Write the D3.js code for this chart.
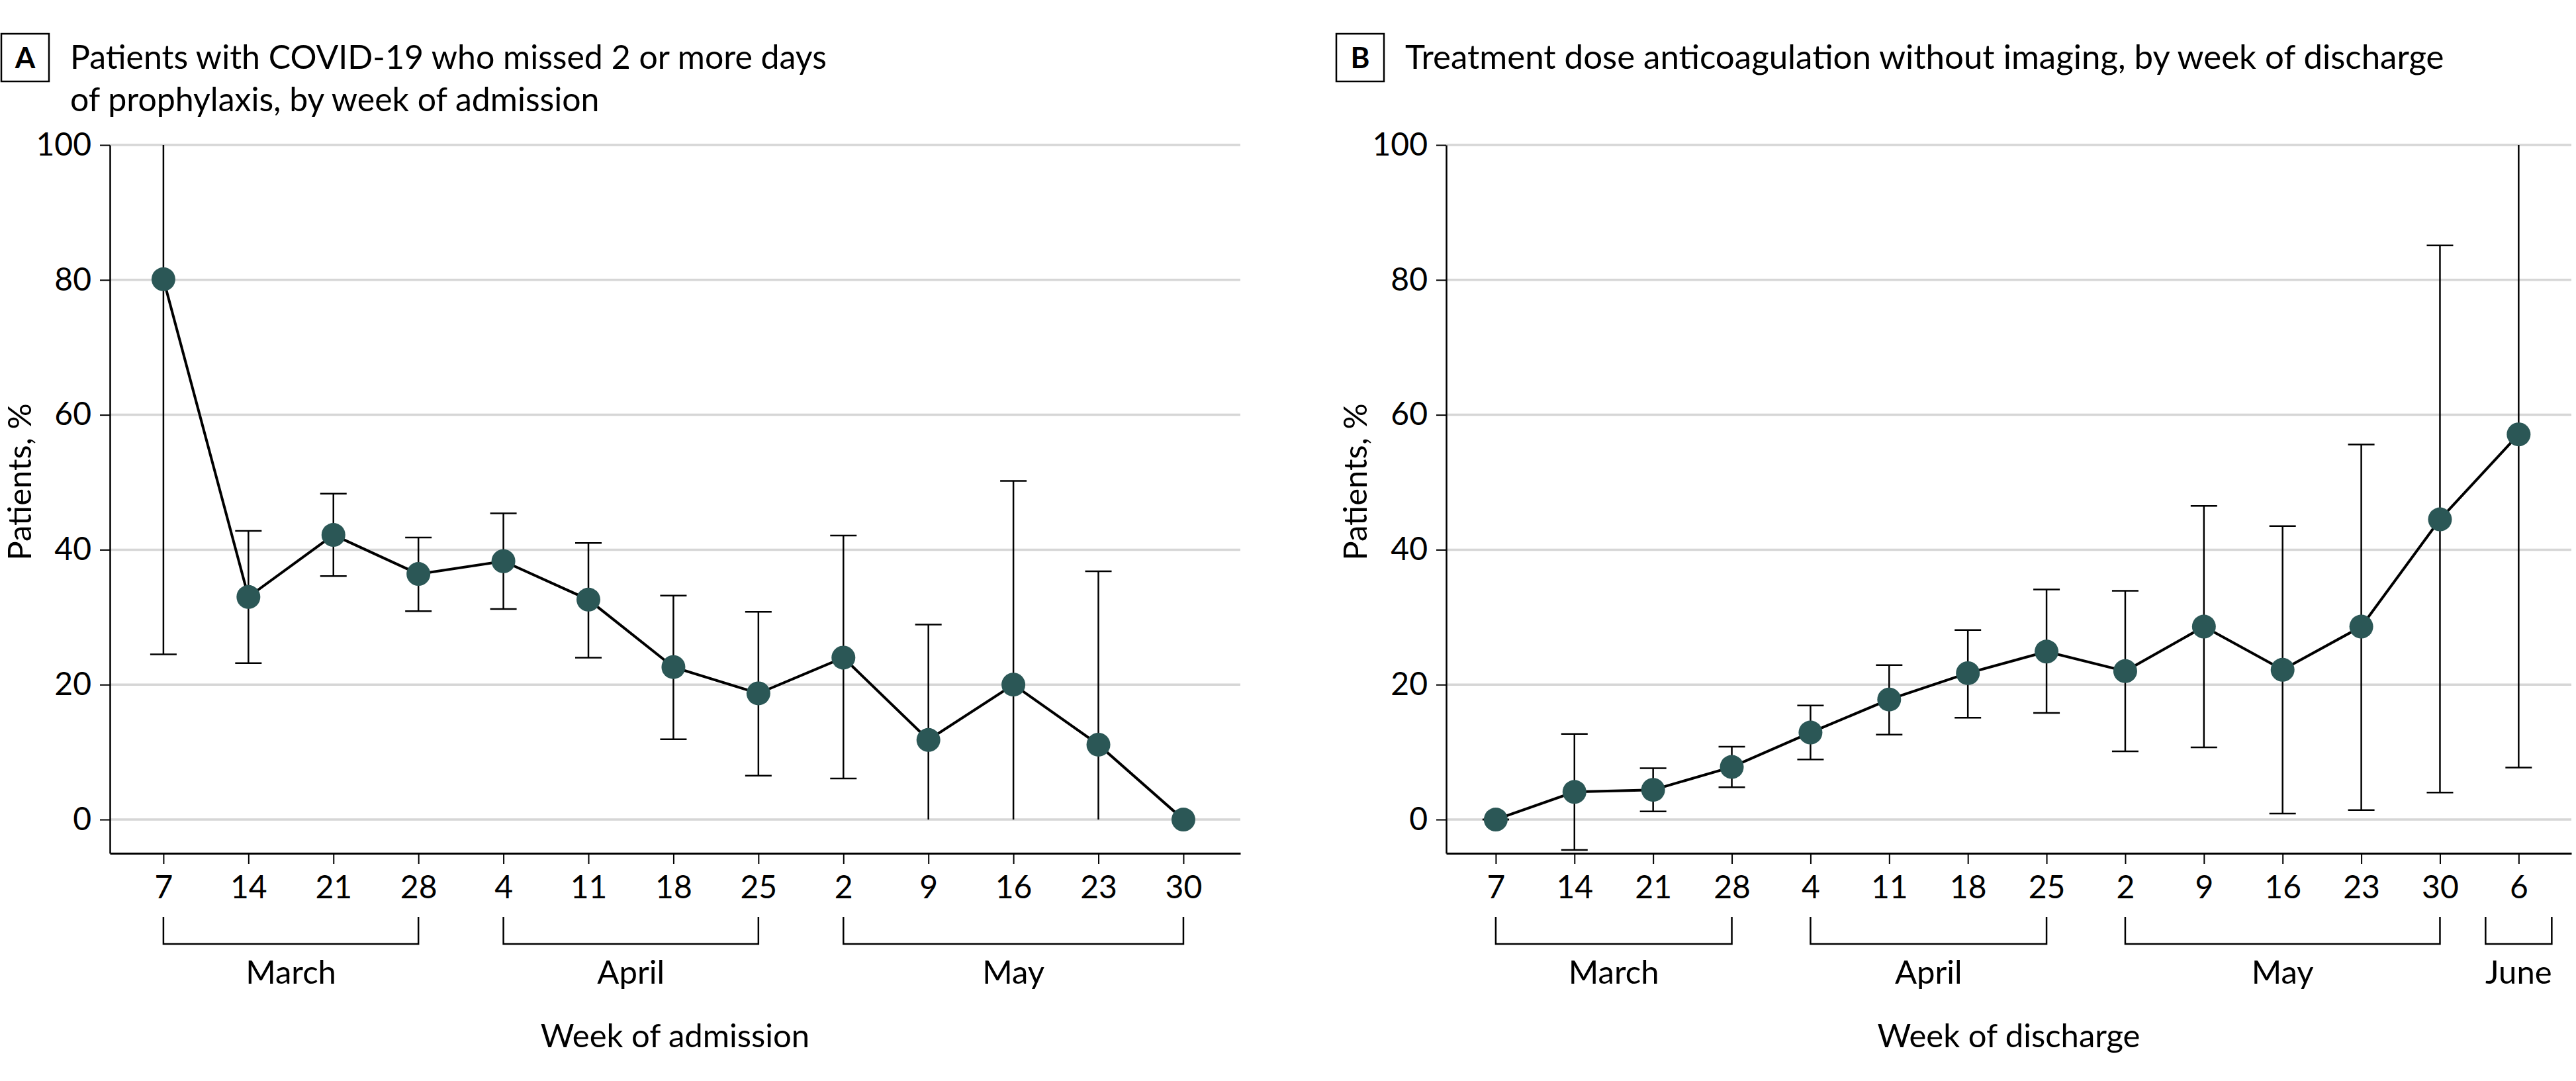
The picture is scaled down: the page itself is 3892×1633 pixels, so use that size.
<!DOCTYPE html>
<html>
<head>
<meta charset="utf-8">
<script src="https://cdn.jsdelivr.net/npm/d3@7"></script>
<style>
  body { margin: 0; background: #fff; }
  text { font-family: Lato, "Open Sans", sans-serif; fill: #000; }
</style>
</head>
<body>
<svg id="chart" width="3892" height="1633"></svg>
<script>
// panel A: missed prophylaxis, by week of admission
var weeksA = ["7", "14", "21", "28", "4", "11", "18", "25", "2", "9", "16", "23", "30"];
var pctA = [80.1, 33.0, 42.2, 36.4, 38.3, 32.6, 22.6, 18.7, 24.0, 11.8, 20.0, 11.1, 0];
var loA = [24.5, 23.2, 36.1, 30.9, 31.2, 24.0, 11.9, 6.5, 6.1, 0, 0, 0, null];
var hiA = [100, 42.8, 48.3, 41.8, 45.4, 41.0, 33.2, 30.8, 42.1, 28.9, 50.2, 36.8, null];
var truncLoA = [9, 10, 11];   // CI cut at 0, drawn without cap
var truncHiA = [0];           // CI cut at 100
var monthsA = ["March", "April", "May"];
var monthFromA = [0, 4, 8];
var monthToA = [3, 7, 12];

// panel B: treatment dose anticoagulation, by week of discharge
var weeksB = ["7", "14", "21", "28", "4", "11", "18", "25", "2", "9", "16", "23", "30", "6"];
var pctB = [0, 4.1, 4.4, 7.8, 12.9, 17.8, 21.7, 24.9, 22.0, 28.6, 22.2, 28.6, 44.5, 57.1];
var loB = [0, -4.5, 1.2, 4.8, 8.9, 12.6, 15.1, 15.8, 10.1, 10.7, 0.9, 1.4, 4.0, 7.7];
var hiB = [0, 12.7, 7.6, 10.8, 16.9, 22.9, 28.1, 34.1, 33.9, 46.5, 43.5, 55.6, 85.1, 100];
var truncLoB = [];
var truncHiB = [13];
var monthsB = ["March", "April", "May", "June"];
var monthFromB = [0, 4, 8, 13];
var monthToB = [3, 7, 12, 13];

var yTicks = [0, 20, 40, 60, 80, 100];

var svg = d3.select("#chart");
var dotColor = "#2b5756";

function drawPanel(p) {
  var g = svg.append("g");
  var n = p.weeks.length;
  var x = d3.scaleLinear().domain([-0.63, n - 1 + 0.67]).range([p.left, p.right]);
  var y = d3.scaleLinear().domain([-5, 100]).range([1289, 219]);

  // panel letter + title
  g.append("rect")
      .attr("x", p.boxX).attr("y", 51).attr("width", 72).attr("height", 72)
      .attr("fill", "none").attr("stroke", "#000").attr("stroke-width", 2.5);
  g.append("text")
      .attr("x", p.boxX + 36).attr("y", 103)
      .attr("text-anchor", "middle")
      .style("font-size", "44px").style("font-weight", "bold")
      .text(p.letter);
  var title = g.append("text")
      .attr("x", p.boxX + 104).attr("y", 104)
      .style("font-size", p.titleSize + "px");
  p.title.forEach(function(t, i) {
    title.append("tspan").attr("x", p.boxX + 104).attr("dy", i ? 64 : 0).text(t);
  });

  // gridlines
  g.append("g").selectAll("line")
      .data(yTicks)
    .enter().append("line")
      .attr("x1", p.left).attr("x2", p.right)
      .attr("y1", function(d) { return y(d); })
      .attr("y2", function(d) { return y(d); })
      .attr("stroke", "#d6d6d6").attr("stroke-width", 3.5);

  // y axis
  var ya = g.append("g")
      .attr("transform", "translate(" + p.left + ",0)")
      .call(d3.axisLeft(y).tickValues(yTicks).tickSize(15).tickSizeOuter(0).tickPadding(13));
  ya.select(".domain").attr("stroke-width", 2.5);
  ya.selectAll(".tick line").attr("stroke-width", 2);
  ya.selectAll(".tick text").style("font-size", "48px").style("font-family", "Lato, sans-serif");

  // x axis
  var xa = g.append("g")
      .attr("transform", "translate(0,1289)")
      .call(d3.axisBottom(x).tickValues(d3.range(n))
        .tickFormat(function(i) { return p.weeks[i]; })
        .tickSize(16).tickSizeOuter(0).tickPadding(18));
  xa.select(".domain").attr("stroke-width", 3);
  xa.selectAll(".tick line").attr("stroke-width", 2);
  xa.selectAll(".tick text").style("font-size", "48px").style("font-family", "Lato, sans-serif");

  // month brackets
  var br = g.append("g").selectAll("g")
      .data(p.months)
    .enter().append("g");
  br.append("path")
      .attr("d", function(m, i) {
        var a = x(p.monthFrom[i]), b = x(p.monthTo[i]);
        if (a === b) { a -= 50; b += 50; }
        return "M" + a + ",1385V1426H" + b + "V1385";
      })
      .attr("fill", "none").attr("stroke", "#000").attr("stroke-width", 2.5);
  br.append("text")
      .attr("x", function(m, i) { return (x(p.monthFrom[i]) + x(p.monthTo[i])) / 2; })
      .attr("y", 1486)
      .attr("text-anchor", "middle")
      .style("font-size", "49px")
      .text(function(m) { return m; });

  g.append("text")
      .attr("x", (p.left + p.right) / 2).attr("y", 1582)
      .attr("text-anchor", "middle")
      .style("font-size", "49px")
      .text(p.xTitle);

  g.append("text")
      .attr("transform", "translate(" + p.yLabX + ",728) rotate(-90)")
      .attr("text-anchor", "middle")
      .style("font-size", "49px")
      .text("Patients, %");

  // error bars
  var eb = g.append("g").selectAll("g")
      .data(d3.range(n).filter(function(i) { return p.lo[i] !== null; }))
    .enter().append("g")
      .attr("stroke", "#000").attr("stroke-width", 2.5);
  eb.append("line")
      .attr("x1", function(i) { return x(i); }).attr("x2", function(i) { return x(i); })
      .attr("y1", function(i) { return y(p.lo[i]); })
      .attr("y2", function(i) { return y(p.hi[i]); });
  eb.filter(function(i) { return p.truncLo.indexOf(i) < 0; })
    .append("line")
      .attr("x1", function(i) { return x(i) - 20; }).attr("x2", function(i) { return x(i) + 20; })
      .attr("y1", function(i) { return y(p.lo[i]); })
      .attr("y2", function(i) { return y(p.lo[i]); });
  eb.filter(function(i) { return p.truncHi.indexOf(i) < 0; })
    .append("line")
      .attr("x1", function(i) { return x(i) - 20; }).attr("x2", function(i) { return x(i) + 20; })
      .attr("y1", function(i) { return y(p.hi[i]); })
      .attr("y2", function(i) { return y(p.hi[i]); });

  // connecting line + dots
  var line = d3.line()
      .x(function(d, i) { return x(i); })
      .y(function(d) { return y(d); });
  g.append("path")
      .datum(p.pct)
      .attr("d", line)
      .attr("fill", "none").attr("stroke", "#000").attr("stroke-width", 4);
  g.append("g").selectAll("circle")
      .data(p.pct)
    .enter().append("circle")
      .attr("cx", function(d, i) { return x(i); })
      .attr("cy", function(d) { return y(d); })
      .attr("r", 18)
      .attr("fill", dotColor);
}

drawPanel({
  letter: "A", boxX: 2, titleSize: 50,
  title: ["Patients with COVID-19 who missed 2 or more days", "of prophylaxis, by week of admission"],
  weeks: weeksA, pct: pctA, lo: loA, hi: hiA, truncLo: truncLoA, truncHi: truncHiA,
  months: monthsA, monthFrom: monthFromA, monthTo: monthToA,
  xTitle: "Week of admission",
  left: 166, right: 1874, yLabX: 47
});

drawPanel({
  letter: "B", boxX: 2019, titleSize: 51,
  title: ["Treatment dose anticoagulation without imaging, by week of discharge"],
  weeks: weeksB, pct: pctB, lo: loB, hi: hiB, truncLo: truncLoB, truncHi: truncHiB,
  months: monthsB, monthFrom: monthFromB, monthTo: monthToB,
  xTitle: "Week of discharge",
  left: 2185, right: 3885, yLabX: 2065
});
</script>
</body>
</html>
